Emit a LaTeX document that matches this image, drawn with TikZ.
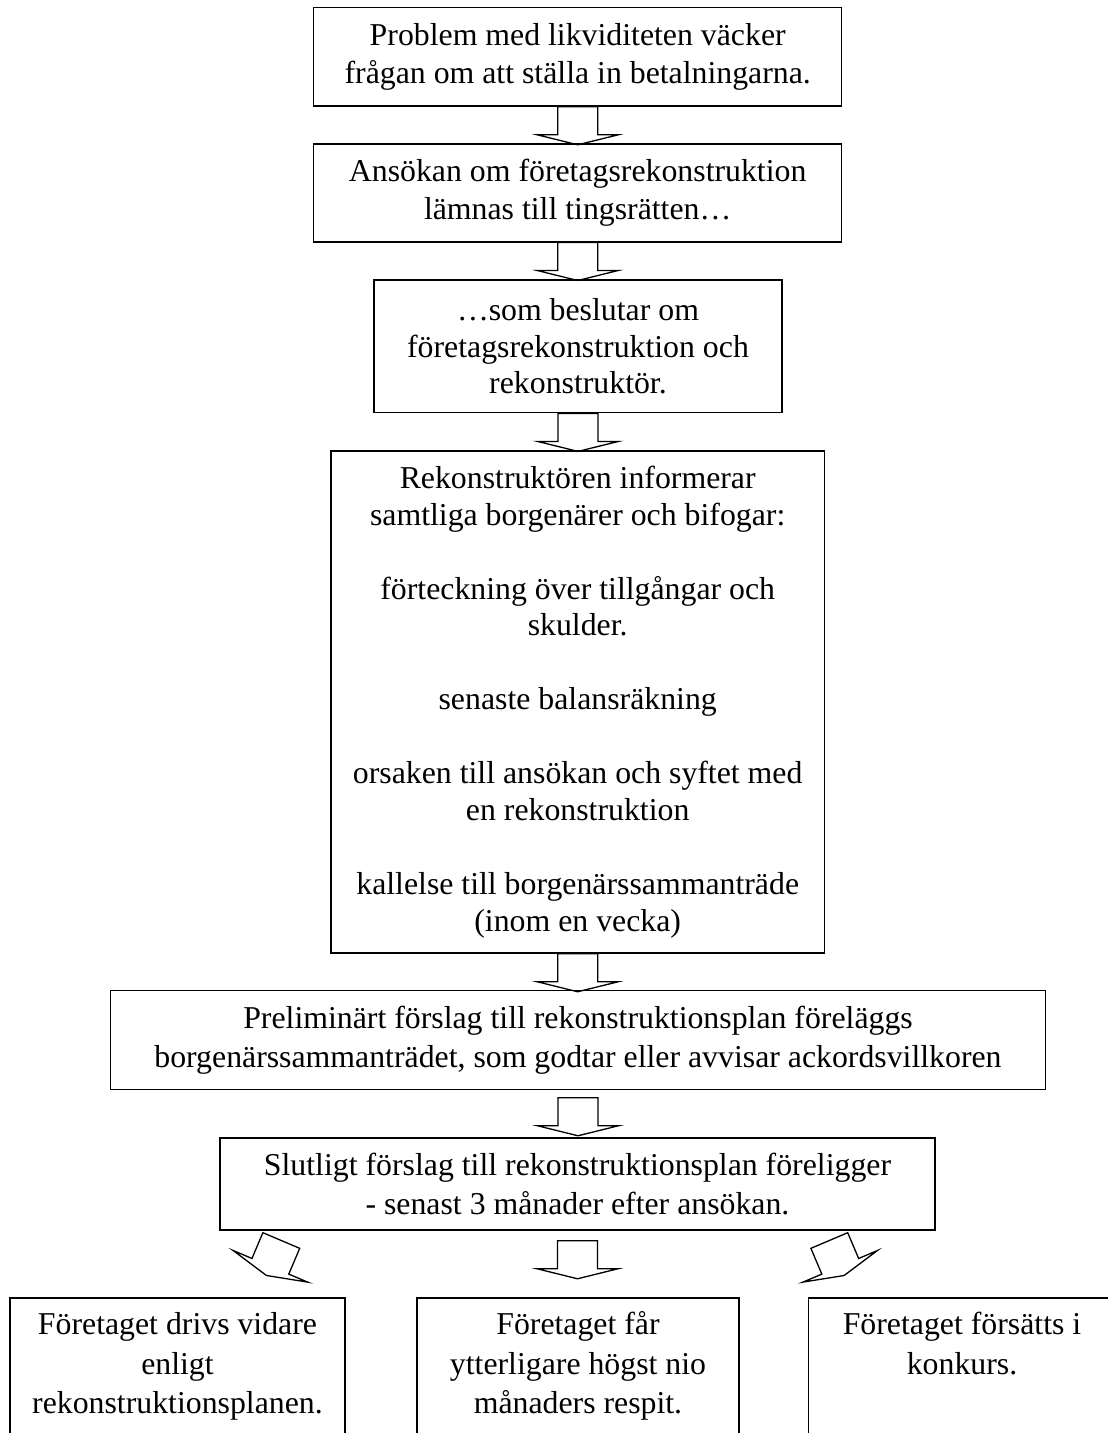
\documentclass[tikz,border=0pt]{standalone}
\usepackage{fontspec}
\setmainfont{Liberation Serif}
\usetikzlibrary{calc}

% hollow block arrow: tail point, turn angle
\newcommand{\blockarrow}[2]{%
  \draw[arrowline, shift={(#1)}, rotate=#2]
    (-20,0) -- (-20,28) -- (-40.5,28) -- (0,38) -- (40.5,28) -- (20,28) -- (20,0) -- cycle;}

\tikzset{
  flowbox/.style={draw, line width=1.5pt, align=center, inner sep=0pt,
    font=\fontsize{31.8}{38.5}\selectfont},
  tightbox/.style={flowbox, font=\fontsize{31.8}{36.6}\selectfont},
  openbox/.style={flowbox, anchor=north, text depth=200pt,
    font=\fontsize{31.8}{39.5}\selectfont},
  arrowline/.style={line width=1.3pt, line join=miter},
}

\begin{document}
\begin{tikzpicture}[x=1pt, y=-1pt]
        \useasboundingbox (0,0) rectangle (1108,1433);
        \clip (0,0) rectangle (1108,1433);

        % Main chain
        \node[flowbox, minimum width=528, minimum height=98.7] (b1) at (577.7,56.7)
            {Problem med likviditeten väcker\\frågan om att ställa in betalningarna.};
        \node[flowbox, minimum width=528, minimum height=97.7] (b2) at (577.7,192.9)
            {Ansökan om företagsrekonstruktion\\lämnas till tingsrätten…};
        \node[tightbox, minimum width=408, minimum height=132.7] (b3) at (578,346.3)
            {…som beslutar om\\företagsrekonstruktion och\\rekonstruktör.};
        \node[tightbox, minimum width=493.7, minimum height=502] (b4) at (577.7,702)
            {Rekonstruktören informerar\\samtliga borgenärer och bifogar:\\[37.5pt]
             förteckning över tillgångar och\\skulder.\\[37.5pt]
             senaste balansräkning\\[37.5pt]
             orsaken till ansökan och syftet med\\en rekonstruktion\\[37.5pt]
             kallelse till borgenärssammanträde\\(inom en vecka)};
        \node[flowbox, minimum width=935, minimum height=98.6] (b5) at (578,1040)
            {Preliminärt förslag till rekonstruktionsplan föreläggs\\borgenärssammanträdet, som godtar eller avvisar ackordsvillkoren};
        \node[flowbox, minimum width=715, minimum height=92] (b6) at (577.5,1184)
            {Slutligt förslag till rekonstruktionsplan föreligger\\- senast 3 månader efter ansökan.};

        % Outcomes (cut off at the bottom)
        \node[openbox, text height=116pt, minimum width=335] (outL) at (177.5,1297)
            {Företaget drivs vidare\\enligt\\rekonstruktionsplanen.};
        \node[openbox, text height=116pt, minimum width=322] (outM) at (578,1297)
            {Företaget får\\ytterligare högst nio\\månaders respit.};
        \node[openbox, text height=76.5pt, minimum width=307] (outR) at (962,1297)
            {Företaget försätts i\\konkurs.};

        % Arrows
        \foreach \from in {b1,b2,b3,b4} {
            \blockarrow{\from.south}{0} % Attached to box edge
        }
        \coordinate (gap5) at ($(b5.south)+(0,7.7)$);
        \coordinate (splitL) at (281.3,1240.5);
        \coordinate (splitM) at ($(b6.south)+(0,10)$);
        \coordinate (splitR) at (829.3,1240.5);
        \blockarrow{gap5}{0}
        \blockarrow{splitL}{-23}
        \blockarrow{splitM}{0}
        \blockarrow{splitR}{23}
\end{tikzpicture}
\end{document}
